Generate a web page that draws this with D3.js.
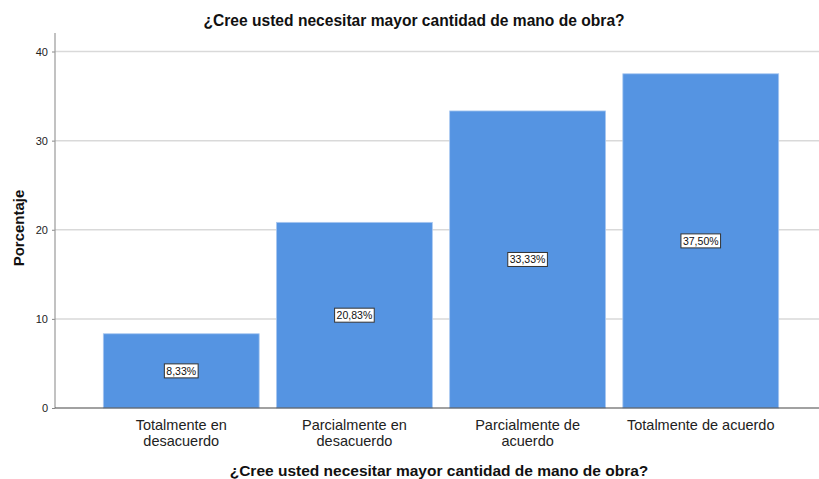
<!DOCTYPE html>
<html><head><meta charset="utf-8">
<script src="https://cdn.jsdelivr.net/npm/d3@7"></script>
<style>body{margin:0;background:#fff;} svg{display:block;font-family:"Liberation Sans",Arial,sans-serif;}</style>
</head><body>
<svg id="c" width="819" height="479"></svg>
<script>
const categories = [["Totalmente en","desacuerdo"],["Parcialmente en","desacuerdo"],["Parcialmente de","acuerdo"],["Totalmente de acuerdo"]];
const values = [8.33, 20.83, 33.33, 37.50];
const valueLabels = ["8,33%","20,83%","33,33%","37,50%"];
const yTicks = [0,10,20,30,40];
const title = "¿Cree usted necesitar mayor cantidad de mano de obra?";
const yTitle = "Porcentaje";

const svg = d3.select("#c");
const x0 = 55, x1 = 819, yBase = 408;
const y = d3.scaleLinear().domain([0,40]).range([yBase, 51.5]);
const x = d3.scaleBand().domain(d3.range(values.length)).range([86,796]).paddingInner(0.1).paddingOuter(0.1);

// gridlines
svg.append("g").selectAll("line").data(yTicks.filter(d=>d>0)).join("line")
  .attr("x1",x0).attr("x2",x1).attr("y1",d=>y(d)).attr("y2",d=>y(d))
  .attr("stroke","#d9d9d9").attr("stroke-width",1.5);

// bars
svg.append("g").selectAll("rect").data(values).join("rect")
  .attr("x",(d,i)=>x(i)).attr("width",x.bandwidth())
  .attr("y",d=>y(d)).attr("height",d=>yBase-y(d))
  .attr("fill","#5594e2").attr("stroke","#a9c8f0").attr("stroke-width",0.8);

// y axis
const yAxis = svg.append("g").attr("transform",`translate(${x0},0)`)
  .call(d3.axisLeft(y).tickValues(yTicks).tickSize(3).tickPadding(4));
yAxis.select(".domain").remove();
yAxis.selectAll(".tick line").attr("stroke","#888");
yAxis.selectAll(".tick text").attr("font-size",11).attr("fill","#222").attr("font-family","Liberation Sans, Arial, sans-serif");
svg.append("line").attr("x1",x0).attr("x2",x0).attr("y1",33).attr("y2",yBase).attr("stroke","#999").attr("stroke-width",1.2);
svg.append("line").attr("x1",x0).attr("x2",x1).attr("y1",yBase).attr("y2",yBase).attr("stroke","#444").attr("stroke-width",1.2);

// value labels
const lg = svg.append("g").selectAll("g").data(values).join("g")
  .attr("transform",(d,i)=>`translate(${x(i)+x.bandwidth()/2},${y(d/2)})`);
lg.append("text").text((d,i)=>valueLabels[i]).attr("text-anchor","middle").attr("dy","0.35em")
  .attr("font-size",10.5).attr("fill","#111")
  .each(function(){
    const b=this.getBBox();
    d3.select(this.parentNode).insert("rect","text")
      .attr("x",b.x-2).attr("y",-7).attr("width",b.width+4).attr("height",14)
      .attr("fill","#fff").attr("stroke","#333").attr("stroke-width",1);
  });

// category labels (one text per line)
const catLines = categories.flatMap((lines,i)=>lines.map((t,j)=>({t,i,j})));
svg.append("g").selectAll("text").data(catLines).join("text")
  .attr("x",d=>x(d.i)+x.bandwidth()/2).attr("y",d=>430+d.j*16)
  .attr("text-anchor","middle").attr("font-size",14.5).attr("fill","#222")
  .text(d=>d.t);

// titles
svg.append("text").attr("x",414).attr("y",26).attr("text-anchor","middle")
  .attr("font-size",15.6).attr("font-weight","bold").attr("fill","#111").text(title);
svg.append("text").attr("x",439).attr("y",476).attr("text-anchor","middle")
  .attr("font-size",15.5).attr("font-weight","bold").attr("fill","#111").text(title);
svg.append("text").attr("transform","translate(24,228) rotate(-90)").attr("text-anchor","middle")
  .attr("font-size",15).attr("font-weight","bold").attr("fill","#111").text(yTitle);
</script>
</body></html>
